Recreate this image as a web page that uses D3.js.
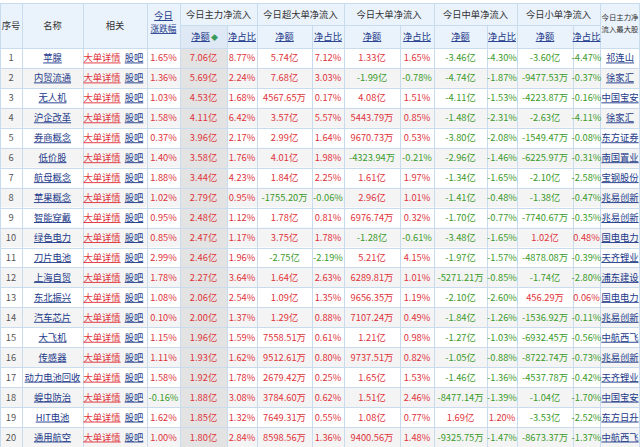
<!DOCTYPE html>
<html><head><meta charset="utf-8">
<script src="https://cdn.jsdelivr.net/npm/d3@7"></script>
<style>body{margin:0;background:#fff;overflow:hidden}text{font-family:"Noto Sans CJK SC",sans-serif;font-size:9.3px}</style>
</head><body><div id="tb"></div>
<script>
var names=["苹腺","内贸流通","无人机","沪企改革","券商概念","低价股","航母概念","苹果概念","智能穿戴","绿色电力","刀片电池","上海自贸","东北振兴","汽车芯片","大飞机","传感器","动力电池回收","蝗虫防治","HIT电池","通用航空"];
var chg=["1.65%","1.36%","1.03%","1.58%","0.37%","1.40%","1.88%","1.02%","0.95%","0.85%","2.99%","1.78%","1.08%","0.10%","1.15%","1.11%","1.58%","-0.16%","1.62%","1.00%"];
var mainAmt=["7.06亿","5.69亿","4.53亿","4.11亿","3.96亿","3.58亿","3.44亿","2.79亿","2.48亿","2.47亿","2.46亿","2.27亿","2.06亿","2.00亿","1.96亿","1.93亿","1.92亿","1.88亿","1.85亿","1.80亿"];
var mainPct=["8.77%","2.24%","1.68%","6.42%","2.17%","1.76%","4.23%","0.95%","1.12%","1.17%","1.96%","3.64%","2.54%","1.37%","1.59%","1.62%","1.78%","3.08%","1.32%","2.84%"];
var xlAmt=["5.74亿","7.68亿","4567.65万","3.57亿","2.99亿","4.01亿","1.84亿","-1755.20万","1.78亿","3.75亿","-2.75亿","1.64亿","1.09亿","1.29亿","7558.51万","9512.61万","2679.42万","3784.60万","7649.31万","8598.56万"];
var xlPct=["7.12%","3.03%","0.17%","5.57%","1.64%","1.98%","2.25%","-0.06%","0.81%","1.78%","-2.19%","2.63%","1.35%","0.88%","0.61%","0.80%","0.25%","0.62%","0.55%","1.36%"];
var lgAmt=["1.33亿","-1.99亿","4.08亿","5443.79万","9670.73万","-4323.94万","1.61亿","2.96亿","6976.74万","-1.28亿","5.21亿","6289.81万","9656.35万","7107.24万","1.21亿","9737.51万","1.65亿","1.51亿","1.08亿","9400.56万"];
var lgPct=["1.65%","-0.78%","1.51%","0.85%","0.53%","-0.21%","1.97%","1.01%","0.32%","-0.61%","4.15%","1.01%","1.19%","0.49%","0.98%","0.82%","1.53%","2.46%","0.77%","1.48%"];
var mdAmt=["-3.46亿","-4.74亿","-4.11亿","-1.48亿","-3.80亿","-2.96亿","-1.34亿","-1.41亿","-1.70亿","-3.48亿","-1.97亿","-5271.21万","-2.10亿","-1.84亿","-1.27亿","-1.05亿","-1.46亿","-8477.14万","1.69亿","-9325.75万"];
var mdPct=["-4.30%","-1.87%","-1.53%","-2.31%","-2.08%","-1.46%","-1.65%","-0.48%","-0.77%","-1.65%","-1.57%","-0.85%","-2.60%","-1.26%","-1.03%","-0.88%","-1.36%","-1.39%","1.20%","-1.47%"];
var smAmt=["-3.60亿","-9477.53万","-4223.87万","-2.63亿","-1549.47万","-6225.97万","-2.10亿","-1.38亿","-7740.67万","1.02亿","-4878.08万","-1.74亿","456.29万","-1536.92万","-6932.45万","-8722.74万","-4537.78万","-1.04亿","-3.53亿","-8673.37万"];
var smPct=["-4.47%","-0.37%","-0.16%","-4.11%","-0.08%","-0.31%","-2.58%","-0.47%","-0.35%","0.48%","-0.39%","-2.80%","0.06%","-0.11%","-0.56%","-0.73%","-0.42%","-1.70%","-2.52%","-1.37%"];
var topStock=["祁连山","徐家汇","中国宝安","徐家汇","东方证券","南国置业","宝钢股份","兆易创新","兆易创新","国电电力","天齐锂业","浦东建设","国电电力","兆易创新","中航西飞","兆易创新","天齐锂业","中国宝安","东方日升","中航西飞"];
var groups=["今日主力净流入","今日超大单净流入","今日大单净流入","今日中单净流入","今日小单净流入"];

var W=640,H=447;
var edges=[0,22,83,147,180,227,257,312,344,400,434,487,517,573,600,640];
var svg=d3.select('#tb').append('svg').attr('width',W).attr('height',H).style('display','block');
var blue='#c9dcee',hdr='#eaf2fb',red='#e0333a',green='#3a9a2a',link='#1d3a8a';
var y=d3.scaleBand().domain(d3.range(20)).range([48,447]);
var X=function(i){return edges[i]},CX=function(i){return (edges[i]+edges[i+1])/2};

// header
svg.append('rect').attr('x',0).attr('y',3).attr('width',W).attr('height',45).attr('fill',hdr);
var rows=svg.append('g');
d3.range(20).forEach(function(i){
  rows.append('rect').attr('x',0).attr('y',y(i)).attr('width',W).attr('height',y.bandwidth())
    .attr('fill',i%2?'#f4f4f4':'#fff');
});
svg.append('rect').attr('x',X(4)).attr('y',48).attr('width',X(5)-X(4)).attr('height',H-48).attr('fill','#e3e3e3');
svg.append('rect').attr('x',X(4)).attr('y',25).attr('width',X(5)-X(4)).attr('height',23).attr('fill','#dfe9f5');

// grid lines
var g=svg.append('g').attr('stroke',blue).attr('stroke-width',1).attr('shape-rendering','crispEdges');
edges.forEach(function(e,i){
  if(i==0) e=0.5; if(i==edges.length-1) e=W-0.5;
  g.append('line').attr('x1',e).attr('x2',e).attr('y1',3).attr('y2',H);
});
g.append('line').attr('x1',0).attr('x2',W).attr('y1',3.5).attr('y2',3.5);
g.append('line').attr('x1',X(4)).attr('x2',X(14)).attr('y1',25.5).attr('y2',25.5);
d3.range(21).forEach(function(i){var yy=(i<20?y(i):H)+0.5;
  g.append('line').attr('x1',0).attr('x2',W).attr('y1',yy).attr('y2',yy);});
for(var k=0;k<5;k++){
  svg.append('rect').attr('x',X(5+2*k)-0.5).attr('y',4).attr('width',1.5).attr('height',21).attr('fill',hdr);
}

function txt(x,yy,s,col,anchor,ul){
  var t=svg.append('text').attr('x',x).attr('y',yy).attr('fill',col).attr('text-anchor',anchor||'middle').text(s);
  if(ul) t.attr('text-decoration','underline');
  return t;
}
txt(CX(0),29,'序号','#333');txt(CX(1),29,'名称','#333');txt(CX(2),29,'相关','#333');
txt(CX(3),19,'今日',link,'middle',1);txt(CX(3),32,'涨跌幅',link,'middle',1).style('font-size','8.6px');
groups.forEach(function(s,k){txt((X(4+2*k)+X(6+2*k))/2,18,s,'#333');
  txt(CX(4+2*k)-(k==0?3:0),40,'净额',link,'middle',1);txt(CX(5+2*k),40,'净占比',link,'middle',1);});
svg.append('text').attr('x',X(4)+31).attr('y',40).attr('fill','#3a9a5a').style('font-size','7px').text('◆');
txt(CX(14),20,'今日主力净','#333').style('font-size','7.4px');
txt(CX(14),32,'流入最大股','#333').style('font-size','7.4px');

var cols=[mainAmt,mainPct,xlAmt,xlPct,lgAmt,lgPct,mdAmt,mdPct,smAmt,smPct];
d3.range(20).forEach(function(i){
  var yy=y(i)+y.bandwidth()/2+3.5;
  txt(CX(0),yy,i+1,'#555');
  txt(CX(1),yy,names[i],link,'middle',1);
  txt(X(2)+19,yy,'大单详情',red,'middle',1);
  txt(X(2)+51,yy,'股吧',link,'middle',1);
  txt(CX(3),yy,chg[i],chg[i][0]=='-'?green:red);
  cols.forEach(function(c,j){txt(CX(4+j),yy,c[i],c[i][0]=='-'?green:red);});
  txt(CX(14),yy,topStock[i],link,'middle',1);
});
</script></body></html>
